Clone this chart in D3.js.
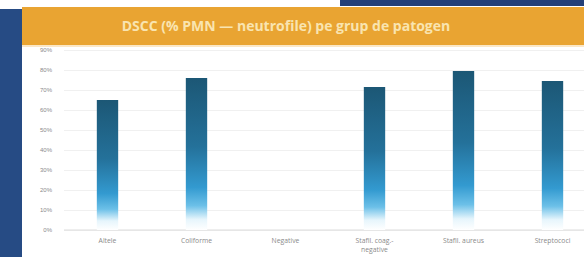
<!DOCTYPE html>
<html>
<head>
<meta charset="utf-8">
<script src="https://cdn.jsdelivr.net/npm/d3@7"></script>
<style>
  body { margin: 0; background: #fff; }
  svg { display: block; font-family: "Open Sans", "Liberation Sans", sans-serif; }
</style>
</head>
<body>
<div id="chart"></div>
<script>
var categories = ['Altele', 'Coliforme', 'Negative', 'Stafil. coag.-|negative', 'Stafil. aureus', 'Streptococi'];
var values = [0.65, 0.76, 0, 0.715, 0.795, 0.745];
var yTicks = [0, 0.1, 0.2, 0.3, 0.4, 0.5, 0.6, 0.7, 0.8, 0.9];
var title = 'DSCC (% PMN \u2014 neutrofile) pe grup de patogen';

var width = 584, height = 257;

var svg = d3.select('#chart').append('svg')
    .attr('width', width)
    .attr('height', height);

// slide frame
svg.append('rect').attr('x', 340).attr('y', 0).attr('width', 244).attr('height', 6).attr('fill', '#233f78');
svg.append('rect').attr('x', 0).attr('y', 9).attr('width', 22).attr('height', height - 9).attr('fill', '#264b84');
svg.append('rect').attr('x', 22).attr('y', 7).attr('width', width - 22).attr('height', 38).attr('fill', '#e9a432');
svg.append('rect').attr('x', 22).attr('y', 45).attr('width', width - 22).attr('height', 2).attr('fill', '#fbe7c6');

svg.append('text')
    .attr('x', 286)
    .attr('y', 31)
    .attr('text-anchor', 'middle')
    .attr('font-size', 14)
    .attr('font-weight', 'bold')
    .attr('fill', '#f9e4b0')
    .text(title);

var y = d3.scaleLinear().domain([0, 0.9]).range([230, 50]);
var x = d3.scaleBand().domain(categories).range([63, 597]).paddingInner(0.76).paddingOuter(0.38);

var defs = svg.append('defs');
var grad = defs.append('linearGradient')
    .attr('id', 'barGrad')
    .attr('x1', 0).attr('y1', 0).attr('x2', 0).attr('y2', 1);
[['0%', '#1c5775'], ['45%', '#24719a'], ['72%', '#339ad0'], ['84%', '#6cc0e8'], ['93%', '#e6f5fc'], ['100%', '#ffffff']]
    .forEach(function(s) {
        grad.append('stop').attr('offset', s[0]).attr('stop-color', s[1]);
    });

// grid + y axis
var yAxis = d3.axisLeft(y)
    .tickValues(yTicks)
    .tickFormat(d3.format('.0%'))
    .tickSize(-(width - 64))
    .tickPadding(12);

var ga = svg.append('g')
    .attr('transform', 'translate(64,0)')
    .call(yAxis);
ga.select('.domain').remove();
ga.selectAll('line').attr('stroke', '#ececec').attr('stroke-width', 0.8);
ga.selectAll('text').attr('font-size', 6).attr('fill', '#8a8a8a');

svg.append('line')
    .attr('x1', 64).attr('x2', width)
    .attr('y1', y(0)).attr('y2', y(0))
    .attr('stroke', '#dcdcdc');

svg.selectAll('.bar')
    .data(values)
    .enter()
    .append('rect')
    .attr('class', 'bar')
    .attr('x', function(d, i) { return x(categories[i]); })
    .attr('y', function(d) { return y(d); })
    .attr('width', x.bandwidth())
    .attr('height', function(d) { return y(0) - y(d); })
    .attr('fill', 'url(#barGrad)');

// x labels
var lab = svg.selectAll('.xlab')
    .data(categories)
    .enter()
    .append('text')
    .attr('class', 'xlab')
    .attr('text-anchor', 'middle')
    .attr('font-size', 6.8)
    .attr('fill', '#8a8a8a');

lab.each(function(d) {
    var cx = x(d) + x.bandwidth() / 2;
    var parts = d.split('|');
    var t = d3.select(this);
    parts.forEach(function(p, k) {
        t.append('tspan').attr('x', cx).attr('y', 243 + k * 9).text(p);
    });
});
</script>
</body>
</html>
